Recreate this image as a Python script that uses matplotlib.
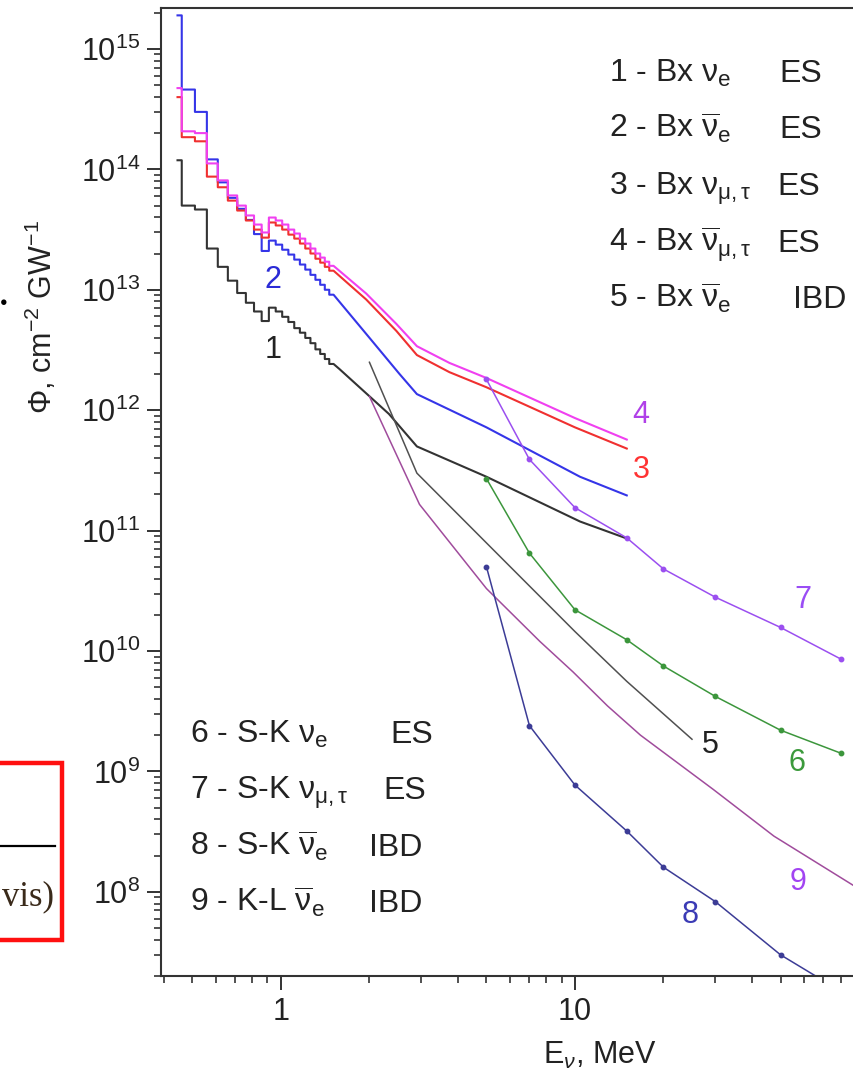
import numpy as np
import matplotlib.pyplot as plt
from matplotlib.patches import Rectangle
from matplotlib.lines import Line2D
from matplotlib.ticker import LogLocator, NullFormatter

plt.rcParams['font.family'] = ['Liberation Sans', 'DejaVu Sans']
plt.rcParams['mathtext.fontset'] = 'custom'
plt.rcParams['mathtext.rm'] = 'Liberation Sans'
plt.rcParams['mathtext.it'] = 'Liberation Sans:italic'
plt.rcParams['mathtext.bf'] = 'Liberation Sans:bold'

# ---- data ----
# reactor spectra: histogram part (bin edges, MeV) ...
step_edges = [0.445, 0.46, 0.51, 0.56, 0.61, 0.66, 0.71, 0.76, 0.81, 0.86, 0.91,
              0.96, 1.01, 1.06, 1.11, 1.16, 1.21, 1.26, 1.31, 1.36, 1.41, 1.46, 1.51]
step_1 = [1.19e14, 5.0e13, 4.64e13, 2.2e13, 1.55e13, 1.19e13, 9.4e12, 7.8e12, 6.6e12, 5.5e12,
          7.1e12, 6.6e12, 5.96e12, 5.4e12, 4.8e12, 4.4e12, 3.98e12, 3.6e12, 3.2e12, 2.93e12,
          2.66e12, 2.42e12]
step_2 = [1.9e15, 4.6e14, 3.0e14, 1.21e14, 7.8e13, 5.8e13, 4.7e13, 3.8e13, 2.9e13, 2.1e13,
          2.56e13, 2.37e13, 2.15e13, 1.96e13, 1.78e13, 1.62e13, 1.47e13, 1.33e13, 1.21e13,
          1.10e13, 1.0e13, 9.1e12]
step_3 = [3.98e14, 1.85e14, 1.71e14, 8.7e13, 7.1e13, 5.5e13, 4.55e13, 3.76e13, 3.16e13, 2.71e13,
          3.62e13, 3.42e13, 3.16e13, 2.87e13, 2.66e13, 2.42e13, 2.2e13, 2.0e13, 1.81e13,
          1.68e13, 1.55e13, 1.44e13]
step_4 = [4.73e14, 2.07e14, 2.0e14, 1.12e14, 8.1e13, 6.07e13, 5.0e13, 4.14e13, 3.48e13, 2.99e13,
          3.98e13, 3.76e13, 3.48e13, 3.16e13, 2.93e13, 2.66e13, 2.42e13, 2.2e13, 2.0e13,
          1.85e13, 1.71e13, 1.58e13]
# ... and smooth tail
tail_e_1 = [1.58, 2.33, 2.9, 5.0, 10.4, 15.0]
tail_1 = [2.2e12, 9.3e11, 5.0e11, 2.8e11, 1.19e11, 8.6e10]
tail_e_2 = [1.95, 2.53, 2.9, 5.0, 10.4, 15.0]
tail_2 = [4.3e12, 2.0e12, 1.36e12, 7.2e11, 2.8e11, 1.96e11]
tail_e_34 = [1.95, 2.47, 2.9, 3.74, 5.0, 10.0, 15.0]
tail_3 = [8.3e12, 4.55e12, 2.87e12, 2.07e12, 1.55e12, 7.2e11, 4.8e11]
tail_4 = [9.3e12, 5.2e12, 3.4e12, 2.47e12, 1.85e12, 8.6e11, 5.7e11]

# 5 - Bx anti-nu_e IBD
e_5 = [2.0, 2.9, 5.0, 10.0, 15.0, 25.0]
phi_5 = [2.5e12, 3.0e11, 7.9e10, 1.45e10, 5.6e9, 1.85e9]

# S-K points (6, 7, 8)
e_sk = [5, 7, 10, 15, 20, 30, 50, 80]
phi_6 = [2.7e11, 6.5e10, 2.2e10, 1.24e10, 7.5e9, 4.2e9, 2.2e9, 1.42e9]
phi_7 = [1.8e12, 3.9e11, 1.55e11, 8.7e10, 4.8e10, 2.8e10, 1.57e10, 8.6e9]
phi_8 = [5.0e10, 2.4e9, 7.7e8, 3.2e8, 1.6e8, 8.3e7, 3.0e7, 1.5e7]

# 9 - K-L anti-nu_e IBD
e_9 = [2.0, 2.96, 5.0, 7.6, 9.85, 12.9, 16.7, 29.5, 47.5, 89]
phi_9 = [1.3e12, 1.65e11, 3.3e10, 1.2e10, 6.7e9, 3.5e9, 2.0e9, 7.1e8, 2.9e8, 1.12e8]

W, H = 854, 1081
fx = lambda px: px / W
fy = lambda py: 1 - py / H


def stair_curve(edges, vals, tail_e, tail_v):
    # histogram outline followed by a smooth tail
    x = np.repeat(edges, 2)[1:-1]
    y = np.repeat(vals, 2)
    return np.concatenate([x, tail_e]), np.concatenate([y, tail_v])


fig = plt.figure(figsize=(W / 100, H / 100), dpi=100)
ax = fig.add_axes([fx(161), fy(976), 1 - fx(161), (976 - 8) / H])
ax.set_xscale('log')
ax.set_yscale('log')

c1, c2, c3, c4 = '#333333', '#3535e8', '#f03030', '#f040f0'
x, y = stair_curve(step_edges, step_1, tail_e_1, tail_1)
ax.plot(x, y, color=c1, lw=1.5)
x, y = stair_curve(step_edges, step_2, tail_e_2, tail_2)
ax.plot(x, y, color=c2, lw=1.5)
x, y = stair_curve(step_edges, step_3, tail_e_34, tail_3)
ax.plot(x, y, color=c3, lw=1.5)
x, y = stair_curve(step_edges, step_4, tail_e_34, tail_4)
ax.plot(x, y, color=c4, lw=1.5)

ax.plot(e_5, phi_5, color='#505050', lw=1.1)
ax.plot(e_9, phi_9, color='#a04c9c', lw=1.1)
ax.plot(e_sk, phi_6, color='#3c963c', lw=1.1, marker='o', ms=3.2)
ax.plot(e_sk, phi_7, color='#9b4ff0', lw=1.1, marker='o', ms=3.2)
ax.plot(e_sk, phi_8, color='#3c3c96', lw=1.1, marker='o', ms=3.2)

ax.set_xlim(0.391, 88.9)
ax.set_ylim(10 ** 7.301, 10 ** 15.34)

ax.set_xticks([1, 10])
ax.set_xticklabels(['1', '10'])
ax.xaxis.set_minor_locator(LogLocator(base=10, subs=np.arange(2, 10), numticks=20))
ax.xaxis.set_minor_formatter(NullFormatter())
ax.yaxis.set_major_locator(LogLocator(base=10, numticks=20))
ax.yaxis.set_minor_locator(LogLocator(base=10, subs=np.arange(2, 10), numticks=20))
ax.yaxis.set_minor_formatter(NullFormatter())
ax.tick_params(which='major', direction='out', length=10, width=1.4, labelsize=22,
               pad=5, colors='#333333', labelcolor='#222222', top=False, right=False)
ax.tick_params(which='minor', direction='out', length=5, width=1.2, colors='#333333',
               top=False, right=False)
ax.spines['right'].set_visible(False)
for s in ['left', 'bottom', 'top']:
    ax.spines[s].set_linewidth(1.5)
    ax.spines[s].set_color('#333333')

# axis titles
fig.text(fx(41), fy(317), r'$\Phi$, cm$^{-2}$ GW$^{-1}$', rotation=90, fontsize=22,
         ha='center', va='center', color='#222222')
fig.text(fx(600), fy(1064), r'E$_{\nu}$, MeV', fontsize=22, ha='center',
         va='baseline', color='#222222')

# legend blocks
fs = 23
txt = '#222222'
top_rows = [(82, r'1 - Bx $\mathrm{\nu_e}$', 'ES', 779),
            (138, r'2 - Bx $\mathrm{\overline{\nu}_e}$', 'ES', 779),
            (195, r'3 - Bx $\mathrm{\nu_{\mu,\tau}}$', 'ES', 777),
            (252, r'4 - Bx $\mathrm{\overline{\nu}_{\mu,\tau}}$', 'ES', 777),
            (308, r'5 - Bx $\mathrm{\overline{\nu}_e}$', 'IBD', 793)]
for yb, left, right, xr in top_rows:
    fig.text(fx(609), fy(yb), left, fontsize=fs, color=txt, va='baseline')
    fig.text(fx(xr), fy(yb), right, fontsize=fs, color=txt, va='baseline')

bot_rows = [(743, r'6 - S-K $\mathrm{\nu_e}$', 'ES', 390),
            (799, r'7 - S-K $\mathrm{\nu_{\mu,\tau}}$', 'ES', 383),
            (856, r'8 - S-K $\mathrm{\overline{\nu}_e}$', 'IBD', 369),
            (912, r'9 - K-L $\mathrm{\overline{\nu}_e}$', 'IBD', 369)]
for yb, left, right, xr in bot_rows:
    fig.text(fx(190), fy(yb), left, fontsize=fs, color=txt, va='baseline')
    fig.text(fx(xr), fy(yb), right, fontsize=fs, color=txt, va='baseline')

# curve numbers
curve_labels = [('1', 273, 350, '#222222'), ('2', 273, 280, '#2b2bd6'),
                ('3', 641, 470, '#ff3333'), ('4', 641, 415, '#b040e8'),
                ('5', 710, 745, '#222222'), ('6', 797, 763, '#3c9a3c'),
                ('7', 803, 600, '#9a4df5'), ('8', 690, 915, '#3b3bb5'),
                ('9', 798, 882, '#a244f2')]
for t, px, py, col in curve_labels:
    fig.text(fx(px), fy(py), t, fontsize=22, color=col, ha='center', va='center')

# bits of the surrounding page
fig.add_artist(Rectangle((fx(-10), fy(940)), fx(72), (940 - 763) / H, fill=False,
                         edgecolor='#ff1010', lw=3.2, transform=fig.transFigure))
fig.add_artist(Line2D([fx(0), fx(55)], [fy(846), fy(846)], color='black', lw=1.6,
                      transform=fig.transFigure))
fig.text(fx(2), fy(905), 'vis)', fontsize=25, family='Liberation Serif', ha='left',
         va='baseline', color='#3a2a1a')
fig.text(fx(4), fy(303), u'\u25CF', fontsize=9, ha='center', va='center', color='black')

fig.savefig('out.png', dpi=100)
